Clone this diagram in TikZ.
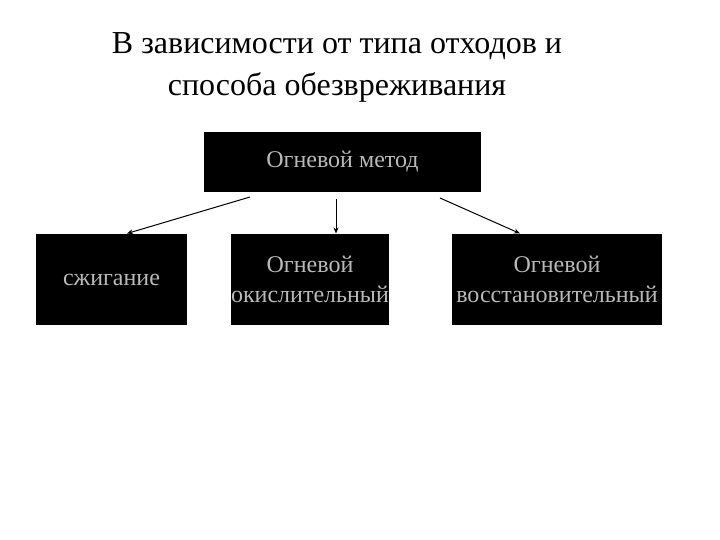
\documentclass[tikz,border=0pt]{standalone}
\usepackage{fontspec}
\usetikzlibrary{arrows.meta}
\setmainfont{Liberation Serif}
\begin{document}
\begin{tikzpicture}[x=1pt,y=-1pt,
  box/.style={fill=black,draw=none,text=gray!55,font=\fontsize{24}{30}\selectfont,align=center,inner sep=0pt},
  arr/.style={-{Stealth[length=6pt,width=5pt]},line width=1pt}]
\useasboundingbox (0,0) rectangle (720,540);
\node[font=\fontsize{32}{42}\selectfont,align=center] (t) at (337,67) {В зависимости от типа отходов и\\способа обезвреживания};
\node[box,minimum width=277,minimum height=60] (top) at (342.5,162) {Огневой метод};
\node[box,minimum width=151,minimum height=91] (a) at (111.5,279.5) {сжигание};
\node[box,minimum width=152,minimum height=91] (b) at (310,279.5) {Огневой\\окислительный};
\node[box,minimum width=210,minimum height=91] (c) at (557,279.5) {Огневой\\восстановительный};
\coordinate (s1) at (250,197); \coordinate (s2) at (336,199); \coordinate (s3) at (440,198);
\draw[arr] (s1) -- (127,233.5);
\draw[arr] (s2) -- (336,233.5);
\draw[arr] (s3) -- (520,233.5);
\end{tikzpicture}
\end{document}
